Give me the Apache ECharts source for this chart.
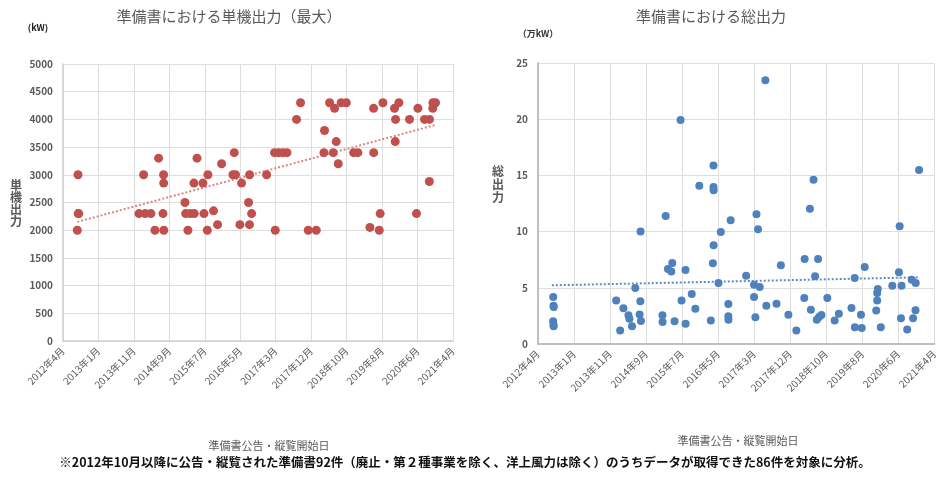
<!DOCTYPE html>
<html><head><meta charset="utf-8">
<script src="https://cdn.jsdelivr.net/npm/echarts@6/dist/echarts.min.js"></script>
<style>html,body{margin:0;padding:0;background:#fff}#c{width:940px;height:477px}</style>
</head><body><div id="c"></div>
<script>
// ---- data ----
const xTickLabels = ['2012年4月','2013年1月','2013年11月','2014年9月','2015年7月','2016年5月','2017年3月','2017年12月','2018年10月','2019年8月','2020年6月','2021年4月'];
const leftYTicks = [0,500,1000,1500,2000,2500,3000,3500,4000,4500,5000];
const rightYTicks = [0,5,10,15,20,25];

const leftDates = ['2012-08-06','2012-08-08','2012-08-12','2012-07-31','2014-02-12','2014-01-04','2014-02-25','2014-04-15','2014-07-26','2014-06-19',
'2014-05-19','2014-07-31','2014-08-01','2014-08-02','2015-01-28','2015-02-03','2015-03-14','2015-04-17','2015-07-08','2015-02-22',
'2015-05-10','2015-04-14','2015-06-29','2015-08-10','2015-08-05','2015-09-27','2015-10-31','2015-12-04','2016-03-20','2016-03-09',
'2016-03-31','2016-05-21','2016-05-07','2016-07-28','2016-07-19','2016-08-14','2016-07-27','2016-12-19','2017-03-02','2017-02-24',
'2017-03-30','2017-05-06','2017-06-09','2017-08-29','2017-10-02','2017-12-06','2018-02-12','2018-04-23','2018-04-18','2018-06-05',
'2018-07-17','2018-09-11','2018-10-24','2018-07-31','2018-07-06','2018-08-17','2018-12-25','2019-01-30','2019-06-12','2019-06-13',
'2019-05-12','2019-07-30','2019-08-07','2019-08-30','2019-12-06','2019-12-15','2019-12-12','2020-01-12','2020-04-11','2020-06-09',
'2020-06-21','2020-08-16','2020-09-27','2020-09-26','2020-10-26','2020-10-25','2020-11-17'];
const leftValues = [3000,2300,2300,2000,3000,2300,2300,2300,2300,3300,
2000,3000,2850,2000,2500,2300,2300,2300,2300,2000,
3300,2850,2850,3000,2000,2350,2100,3200,3400,3000,
3000,2850,2100,3000,2500,2300,2100,3000,2000,3400,
3400,3400,3400,4000,4300,2000,2000,3800,3400,4300,
4200,4300,4300,3600,3400,3200,3400,3400,4200,3400,
2050,2000,2300,4300,4200,4000,3600,4300,4000,2300,
4200,4000,4000,2880,4300,4200,4300];
const leftTrendDates = ['2012-07-31','2020-11-17'];
const leftTrendValues = [2150,3900];

const rightDates = ['2012-08-06','2012-08-08','2012-08-10','2012-08-05','2012-08-08','2012-08-09','2014-01-12','2014-02-14','2014-03-13','2014-04-24',
'2014-05-02','2014-05-24','2014-06-20','2014-08-03','2014-08-01','2014-07-26','2014-08-06','2015-02-01','2015-02-02','2015-02-28',
'2015-03-19','2015-04-16','2015-04-24','2015-05-13','2015-07-02','2015-07-10','2015-08-12','2015-08-13','2015-10-03','2015-11-02',
'2015-12-05','2016-03-10','2016-03-27','2016-04-01','2016-04-01','2016-04-02','2016-04-02','2016-05-13','2016-06-01','2016-08-03',
'2016-08-03','2016-08-04','2016-08-22','2016-12-29','2017-03-05','2017-03-05','2017-03-16','2017-03-25','2017-04-07','2017-04-21',
'2017-06-07','2017-06-15','2017-09-08','2017-10-14','2017-12-16','2018-02-20','2018-04-27','2018-04-30','2018-06-13','2018-06-21',
'2018-07-13','2018-07-26','2018-08-09','2018-08-20','2018-08-28','2018-09-17','2018-11-05','2019-01-05','2019-02-09','2019-05-25',
'2019-06-21','2019-06-22','2019-08-12','2019-08-18','2019-09-12','2019-12-17','2019-12-25','2019-12-25','2019-12-30','2020-01-24',
'2020-04-29','2020-06-23','2020-06-29','2020-07-10','2020-07-15','2020-08-31','2020-10-08','2020-10-19','2020-11-08','2020-11-10',
'2020-12-08'];
const rightValues = [4.18,3.41,3.30,2.02,1.72,1.57,3.88,1.19,3.17,2.55,
2.25,1.57,4.98,10.0,3.80,2.62,2.04,2.55,1.96,11.39,
6.67,6.44,7.20,2.02,19.93,3.88,6.58,1.81,4.45,3.14,
14.09,2.10,7.18,15.87,13.97,13.67,8.78,5.43,9.96,3.56,
2.46,2.16,11.00,6.08,5.28,4.18,2.37,11.54,10.20,5.07,
23.46,3.41,3.59,7.00,2.61,1.19,4.09,7.56,12.04,3.05,
14.62,6.02,2.16,7.56,2.40,2.58,4.09,2.08,2.70,3.20,
5.87,1.48,2.61,1.42,6.85,2.97,3.86,4.54,4.89,1.48,
5.19,6.38,10.47,2.28,5.19,1.28,5.72,2.28,3.00,5.43,
15.48];
const rightTrendDates = ['2012-07-25','2020-11-30'];
const rightTrendValues = [5.22,5.93];

// ---- helpers ----
const ORIGIN = Date.UTC(2012,3,1);
function toDay(s){const p=s.split('-').map(Number);return (Date.UTC(p[0],p[1]-1,p[2])-ORIGIN)/86400000;}
function pairs(ds,vs){return ds.map((d,i)=>[toDay(d),vs[i]]);}

const FONT = '"Noto Sans CJK JP","Noto Sans",sans-serif';
const GRAY = '#595959';

function xAxisCfg(gi, lineColor, lineWidth){
  return {type:'value', gridIndex:gi, min:0, max:(xTickLabels.length-1)*300, interval:300,
    axisLine:{show:true, lineStyle:{color:lineColor, width:lineWidth}},
    axisTick:{show:false},
    splitLine:{show:true, lineStyle:{color:'#dedede', width:1}},
    axisLabel:{rotate:45, margin:8, fontSize:10, color:GRAY, fontFamily:FONT,
      formatter:v=>xTickLabels[Math.round(v/300)]||''}};
}
function yAxisCfg(gi, ticks, lineColor, lineWidth){
  return {type:'value', gridIndex:gi, min:ticks[0], max:ticks[ticks.length-1], interval:ticks[1]-ticks[0],
    axisLine:{show:true, lineStyle:{color:lineColor, width:lineWidth}},
    axisTick:{show:false},
    splitLine:{show:true, lineStyle:{color:'#dedede', width:1}},
    axisLabel:{margin:10, fontSize:10, fontWeight:'bold', color:GRAY, fontFamily:FONT,
      formatter:v=>String(v)}};
}
function txt(x,y,text,opt){
  return Object.assign({type:'text', x:x, y:y, silent:true,
    style:Object.assign({text:text, fontFamily:FONT, fill:GRAY, fontSize:11, textAlign:'center', textVerticalAlign:'middle'}, opt||{})});
}

const chart = echarts.init(document.getElementById('c'), null, {renderer:'canvas'});
chart.setOption({
  animation:false,
  backgroundColor:'#fff',
  grid:[{left:63, top:64, width:390, height:277},
        {left:538, top:63, width:400, height:281}],
  xAxis:[xAxisCfg(0,'#d0d0d0',1.5), xAxisCfg(1,'#bfbfbf',2)],
  yAxis:[yAxisCfg(0,leftYTicks,'#d0d0d0',1.5), yAxisCfg(1,rightYTicks,'#bfbfbf',2)],
  series:[
    {type:'scatter', xAxisIndex:0, yAxisIndex:0, data:pairs(leftDates,leftValues),
      symbol:'circle', symbolSize:9, itemStyle:{color:'#C0504D', opacity:1}, z:3},
    {type:'line', xAxisIndex:0, yAxisIndex:0, data:pairs(leftTrendDates,leftTrendValues),
      symbol:'none', lineStyle:{color:'#D98683', width:2, type:[2,2]}, z:2},
    {type:'scatter', xAxisIndex:1, yAxisIndex:1, data:pairs(rightDates,rightValues),
      symbol:'circle', symbolSize:8, itemStyle:{color:'#4F81BD', opacity:1}, z:3},
    {type:'line', xAxisIndex:1, yAxisIndex:1, data:pairs(rightTrendDates,rightTrendValues),
      symbol:'none', lineStyle:{color:'#5B8BC6', width:2, type:[2,2]}, z:2}
  ],
  graphic:[
    txt(229,16,'準備書における単機出力（最大）',{fontSize:15}),
    txt(711,16,'準備書における総出力',{fontSize:15}),
    txt(38,28,'(kW)',{fontSize:9, fontWeight:'bold', fill:'#222'}),
    txt(538,34,'（万kW）',{fontSize:9, fontWeight:'bold', fill:'#333'}),
    txt(16,203,'単\n機\n出\n力',{fontSize:12, fontWeight:'bold', lineHeight:12}),
    txt(498,184,'総\n出\n力',{fontSize:12, fontWeight:'bold', lineHeight:13}),
    txt(269,446,'準備書公告・縦覧開始日',{fontSize:11}),
    txt(738,441,'準備書公告・縦覧開始日',{fontSize:11}),
    txt(465,462,'※2012年10月以降に公告・縦覧された準備書92件（廃止・第２種事業を除く、洋上風力は除く）のうちデータが取得できた86件を対象に分析。',{fontSize:12.5, fontWeight:'bold', fill:'#111'})
  ]
});
</script></body></html>
